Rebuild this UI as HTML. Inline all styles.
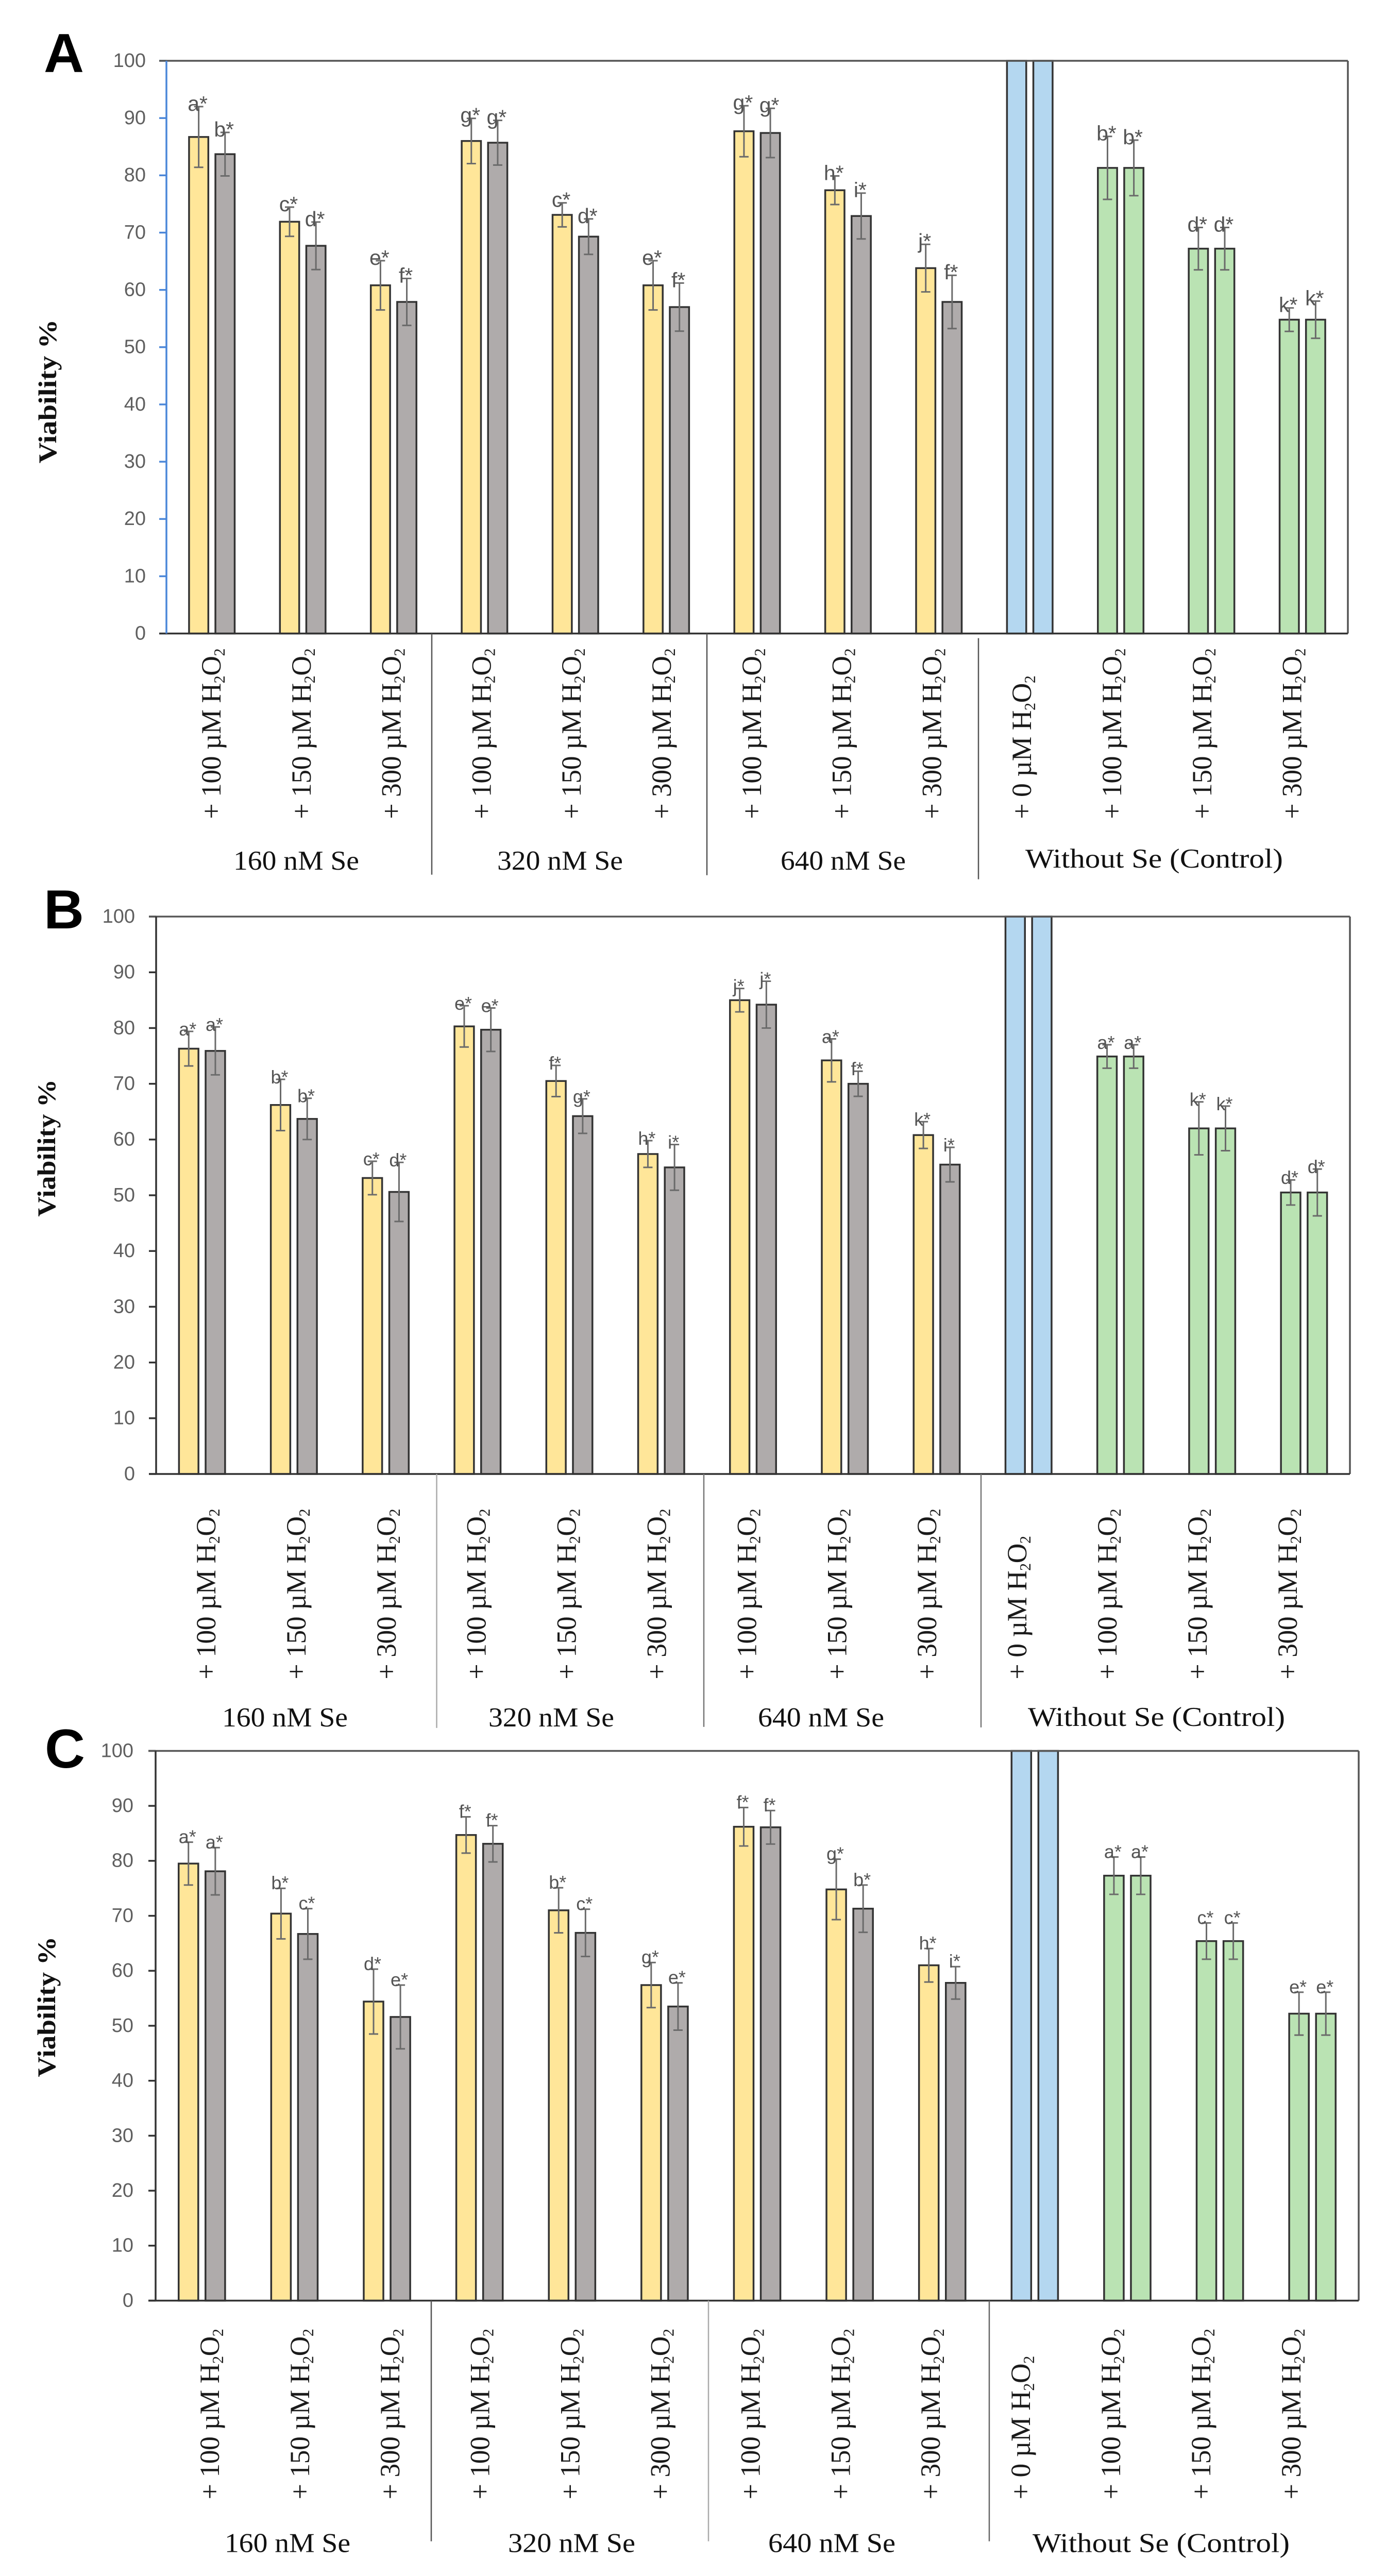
<!DOCTYPE html>
<html lang="en">
<head>
<meta charset="utf-8">
<title>Viability charts</title>
<style>
html,body{margin:0;padding:0;background:#fff;width:100%;height:100%;overflow:hidden}
svg{display:block;position:fixed;left:0;top:0;width:100vw;height:100vh;overflow:hidden}
text{font-family:"Liberation Sans",sans-serif}
.serif{font-family:"Liberation Serif",serif}
</style>
</head>
<body>
<svg id="figure" xmlns="http://www.w3.org/2000/svg" viewBox="0 0 2690 5042" preserveAspectRatio="none">
<rect x="0" y="0" width="2690" height="5042" fill="#ffffff"/>
<g id="content"></g>
</svg>
<script>
// Shared category data
const xDoses = ['100','150','300','100','150','300','100','150','300','0','100','150','300'];
const groupOfCategory = ['se','se','se','se','se','se','se','se','se','zero','control','control','control'];
const yTicks = [0,10,20,30,40,50,60,70,80,90,100];
const groupNames = ['160 nM Se','320 nM Se','640 nM Se','Without Se (Control)'];

// Panel A
const aLeftValues  = [86.7,71.9,60.8,86.0,73.1,60.8,87.7,77.4,63.8,100,81.3,67.2,54.8];
const aRightValues = [83.7,67.7,57.9,85.7,69.3,57.0,87.4,72.9,57.9,100,81.3,67.2,54.8];
const aLeftErrors  = [5.3,2.55,4.3,3.95,2.1,4.3,4.45,2.5,4.15,0,5.5,3.7,2.05];
const aRightErrors = [3.8,4.15,4.1,3.9,3.1,4.2,4.3,4.0,4.65,0,4.85,3.7,3.25];
const aLeftLetters  = ['a','c','e','g','c','e','g','h','j','','b','d','k'];
const aRightLetters = ['b','d','f','g','d','f','g','i','f','','b','d','k'];

// Panel B
const bLeftValues  = [76.3,66.2,53.1,80.3,70.5,57.4,85.0,74.2,60.8,100,74.9,62.0,50.5];
const bRightValues = [75.9,63.7,50.6,79.7,64.2,55.0,84.2,70.0,55.5,100,74.9,62.0,50.5];
const bLeftErrors  = [3.1,4.6,3.0,3.7,2.8,2.4,2.1,3.85,2.4,0,2.1,4.75,2.25];
const bRightErrors = [4.3,3.7,5.3,3.9,3.1,4.1,4.2,2.25,3.1,0,2.1,4.0,4.2];
const bLeftLetters  = ['a','b','c','e','f','h','j','a','k','','a','k','d'];
const bRightLetters = ['a','b','d','e','g','i','j','f','i','','a','k','d'];

// Panel C
const cLeftValues  = [79.5,70.4,54.4,84.7,71.0,57.4,86.2,74.8,61.0,100,77.3,65.4,52.2];
const cRightValues = [78.1,66.7,51.6,83.1,66.9,53.5,86.1,71.3,57.8,100,77.3,65.4,52.2];
const cLeftErrors  = [3.9,4.6,5.9,3.3,4.1,4.1,3.5,5.5,3.05,0,3.4,3.3,3.9];
const cRightErrors = [4.3,4.6,5.8,3.3,4.3,4.3,3.05,4.3,2.95,0,3.4,3.3,3.9];
const cLeftLetters  = ['a','b','d','f','b','g','f','g','h','','a','c','e'];
const cRightLetters = ['a','c','e','f','c','e','f','b','i','','a','c','e'];

const NS = 'http://www.w3.org/2000/svg';
const root = document.getElementById('content');
const FILLS = {left:'#ffe699', right:'#afabab', zero:'#b4d7f0', control:'#bae3b3'};

function make(parent, tag, attrs, content) {
  const node = document.createElementNS(NS, tag);
  for (const k in attrs) node.setAttribute(k, attrs[k]);
  if (content !== undefined) node.textContent = content;
  parent.appendChild(node);
  return node;
}

function xLabel(parent, x, y, dose, size) {
  const t = make(parent, 'text', {
    transform: 'translate(' + x + ',' + y + ') rotate(-90)',
    'font-size': size, fill: '#1a1a1a', 'class': 'serif', 'letter-spacing': '-0.45'
  });
  t.style.whiteSpace = 'pre';
  const subSize = size * 0.56;
  make(t, 'tspan', {}, '+ ' + dose + ' \u00b5M H');
  make(t, 'tspan', {'font-size': subSize, dy: 8}, '2');
  make(t, 'tspan', {dy: -8}, 'O');
  make(t, 'tspan', {'font-size': subSize, dy: 8}, '2');
  return t;
}

function drawPanel(cfg) {
  const g = make(root, 'g', {});
  
  

  const band = (cfg.right - cfg.left) / xDoses.length;
  const xCenter = i => cfg.left + (i + 0.5) * band;
  const yScale = v => cfg.bottom - (v / 100) * (cfg.bottom - cfg.top);
  const barW = band * 0.212;
  const off = band * 0.145;

  // panel letter
  const letter = make(g, 'text', {x: cfg.letterX, y: cfg.letterY, 'font-size': 108, 'font-weight': 'bold', fill: '#000'}, cfg.id);
  
  

  // y axis title
  const yt = make(g, 'text', {
    transform: 'translate(' + cfg.titleX + ',' + cfg.titleY + ') rotate(-90)',
    'text-anchor': 'middle', 'font-size': 50, 'font-weight': 'bold', fill: '#111', 'class': 'serif',
    textLength: cfg.titleLen, lengthAdjust: 'spacingAndGlyphs'
  }, 'Viability %');
  
  

  // y ticks + labels
  yTicks.forEach(v => {
    const y = yScale(v);
    const tick = make(g, 'line', {x1: cfg.left - 14, x2: cfg.left, y1: y, y2: y, stroke: cfg.leftColor, 'stroke-width': 3.5});
    
    
    const lab = make(g, 'text', {x: cfg.left - cfg.tickGap, y: y + 12, 'text-anchor': 'end', 'font-size': 38, fill: '#5f5f5f'}, String(v));
    
    
  });

  // bars, error bars, letters
  xDoses.forEach((dose, i) => {
    [['left', cfg.leftValues, cfg.leftErrors, cfg.leftLetters, -1],
     ['right', cfg.rightValues, cfg.rightErrors, cfg.rightLetters, 1]].forEach(s => {
      const side = s[0], v = s[1][i], err = s[2][i], sig = s[3][i], dir = s[4];
      const cx = xCenter(i) + dir * off;
      const kind = groupOfCategory[i];
      const fill = kind === 'se' ? FILLS[side] : FILLS[kind];
      const bar = make(g, 'rect', {
        x: cx - barW / 2, y: yScale(v), width: barW, height: cfg.bottom - yScale(v),
        fill: fill, stroke: '#333', 'stroke-width': 3.5
      });
      
      
      if (err > 0) {
        const eb = make(g, 'path', {
          d: 'M' + cx + ' ' + yScale(v + err) + 'V' + yScale(v - err) +
             'M' + (cx - 9) + ' ' + yScale(v + err) + 'H' + (cx + 9) +
             'M' + (cx - 9) + ' ' + yScale(v - err) + 'H' + (cx + 9),
          fill: 'none', stroke: '#6a6a6a', 'stroke-width': 3
        });
        
        
      }
      if (sig) {
        const st = make(g, 'text', {
          x: cx - 2, y: yScale(v + err) + cfg.sigGap, 'text-anchor': 'middle',
          'font-size': cfg.sigSize, fill: '#555'
        }, sig + '*');
        
        
      }
    });
  });

  // plot frame
  const frameTop = make(g, 'line', {x1: cfg.left - 14, x2: cfg.right, y1: cfg.top, y2: cfg.top, stroke: '#555', 'stroke-width': 3.5});
  
  
  const frameRight = make(g, 'line', {x1: cfg.right, x2: cfg.right, y1: cfg.top, y2: cfg.bottom, stroke: '#555', 'stroke-width': 3.5});
  
  
  const frameBottom = make(g, 'line', {x1: cfg.left - 14, x2: cfg.right, y1: cfg.bottom, y2: cfg.bottom, stroke: '#333', 'stroke-width': 3.5});
  
  
  const frameLeft = make(g, 'line', {x1: cfg.left, x2: cfg.left, y1: cfg.top, y2: cfg.bottom, stroke: cfg.leftColor, 'stroke-width': 3.5});
  
  

  // x category labels
  xDoses.forEach((dose, i) => {
    const lab = xLabel(g, cfg.xLabelStart + i * cfg.xLabelStep + 19, cfg.xLabelY, dose, 54);
    
    
  });

  // group separators
  cfg.separators.forEach((sep, i) => {
    const s = make(g, 'line', {x1: sep.x, x2: sep.x, y1: sep.y1, y2: sep.y2, stroke: sep.color, 'stroke-width': 2.5});
    
    
  });

  // group labels
  groupNames.forEach((name, i) => {
    const box = cfg.groupBoxes[i];
    const t = make(g, 'text', {
      x: box[0], y: box[2], 'font-size': 53, fill: '#111', 'class': 'serif',
      textLength: box[1] - box[0], lengthAdjust: 'spacingAndGlyphs'
    }, name);
    
    
  });
}

drawPanel({
  id: 'A', left: 323, right: 2616, top: 119, bottom: 1240,
  leftColor: '#4a86d8', tickGap: 40,
  leftValues: aLeftValues, rightValues: aRightValues, leftErrors: aLeftErrors, rightErrors: aRightErrors,
  leftLetters: aLeftLetters, rightLetters: aRightLetters,
  sigGap: 8, sigSize: 41,
  letterX: 85, letterY: 141,
  titleX: 109, titleY: 766, titleLen: 282,
  xLabelStart: 409, xLabelStep: 174.8, xLabelY: 1603,
  separators: [{x:838,y1:1240,y2:1712,color:'#555'},{x:1372,y1:1240,y2:1713,color:'#555'},{x:1899,y1:1249,y2:1721,color:'#555'}],
  groupBoxes: [[453,697,1702],[965,1209,1702],[1515,1758,1702],[1990,2490,1698]]
});

drawPanel({
  id: 'B', left: 303, right: 2620, top: 1794, bottom: 2885,
  leftColor: '#333', tickGap: 41,
  leftValues: bLeftValues, rightValues: bRightValues, leftErrors: bLeftErrors, rightErrors: bRightErrors,
  leftLetters: bLeftLetters, rightLetters: bRightLetters,
  sigGap: 8, sigSize: 36,
  letterX: 85, letterY: 1817,
  titleX: 107, titleY: 2247, titleLen: 269,
  xLabelStart: 399, xLabelStep: 174.9, xLabelY: 3287,
  separators: [{x:847.5,y1:2885,y2:3382,color:'#aaa'},{x:1366,y1:2885,y2:3380,color:'#777'},{x:1904,y1:2885,y2:3381,color:'#777'}],
  groupBoxes: [[431,675,3379],[948,1192,3379],[1471,1716,3379],[1995,2494,3378]]
});

drawPanel({
  id: 'C', left: 302, right: 2637, top: 3427, bottom: 4503,
  leftColor: '#333', tickGap: 43,
  leftValues: cLeftValues, rightValues: cRightValues, leftErrors: cLeftErrors, rightErrors: cRightErrors,
  leftLetters: cLeftLetters, rightLetters: cRightLetters,
  sigGap: 2, sigSize: 36,
  letterX: 87, letterY: 3460,
  titleX: 107, titleY: 3928, titleLen: 275,
  xLabelStart: 406, xLabelStep: 174.9, xLabelY: 4892,
  separators: [{x:837,y1:4503,y2:4974,color:'#555'},{x:1375,y1:4503,y2:4974,color:'#aaa'},{x:1920,y1:4503,y2:4974,color:'#666'}],
  groupBoxes: [[436,680,4995],[986,1233,4995],[1491,1738,4995],[2004,2503,4995]]
});
</script>
</body>
</html>
